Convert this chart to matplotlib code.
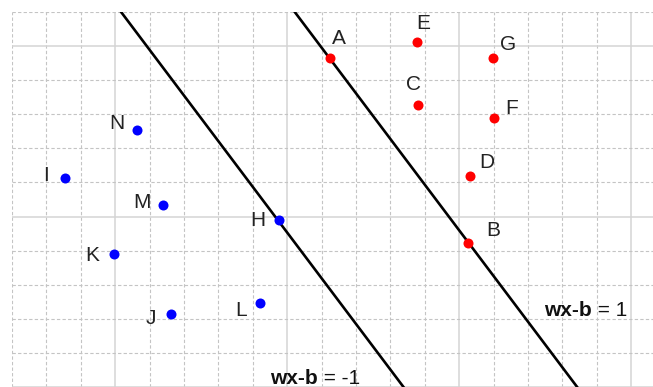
import matplotlib
matplotlib.use("Agg")
import matplotlib.pyplot as plt
import numpy as np

# ---- data ----
red_labels = ["A", "E", "C", "G", "F", "D", "B"]
red_x = [6.25, 8.77, 8.80, 10.98, 11.00, 10.30, 10.25]
red_y = [4.65, 5.13, 3.26, 4.64, 2.90, 1.20, -0.77]

blue_labels = ["N", "I", "M", "K", "H", "J", "L"]
blue_x = [0.64, -1.45, 1.39, -0.03, 4.77, 1.62, 4.20]
blue_y = [2.53, 1.12, 0.35, -1.10, -0.11, -2.85, -2.53]

# margin lines: y = slope * x + intercept
line_slope = -1.34
line_intercepts = [12.995, 6.23]          # wx-b = 1, wx-b = -1
line_names = ["wx-b = 1", "wx-b = -1"]

# ---- label offsets (pixels) ----
red_off = [(9, 20), (6, 18), (-4, 21), (15, 14), (18, 9), (17, 13), (25, 12)]
blue_off = [(-20, 7), (-19, 3), (-21, 2), (-22, -1), (-21, 0), (-20, -5), (-19, -7.5)]

plt.rcParams['font.family'] = ['Liberation Sans', 'DejaVu Sans']

fig = plt.figure(figsize=(6.53, 3.87), dpi=100)
ax = fig.add_axes([12 / 653, 0, 641 / 653, 375 / 387])
ax.set_xlim(-2.97, 15.634)
ax.set_ylim(-4.942, 5.959)

for s in ax.spines.values():
    s.set_visible(False)
ax.set_xticks(np.arange(0, 16, 5))
ax.set_yticks(np.arange(-5, 7, 5))
ax.set_xticks(np.arange(-3, 16, 1), minor=True)
ax.set_yticks(np.arange(-5, 7, 1), minor=True)
ax.tick_params(which='both', length=0, labelbottom=False, labelleft=False)
ax.grid(which='major', color='#d4d4d4', linestyle='-', linewidth=1.1)
ax.grid(which='minor', color='#c4c4c4', linestyle=(0, (3, 2)), linewidth=0.8)
ax.set_axisbelow(True)

xs = np.array([-3.5, 16.0])
for c in line_intercepts:
    ax.plot(xs, line_slope * xs + c, color='black', linewidth=1.9, zorder=2)

ax.scatter(red_x, red_y, s=52, color='#ff0000', zorder=3, linewidths=0)
ax.scatter(blue_x, blue_y, s=52, color='#0000ff', zorder=3, linewidths=0)

FS = 15
for lab, x, y, off in zip(red_labels, red_x, red_y, red_off):
    ax.annotate(lab, (x, y), xytext=off, textcoords='offset pixels',
                ha='center', va='center', fontsize=FS, color='#222222')
for lab, x, y, off in zip(blue_labels, blue_x, blue_y, blue_off):
    ax.annotate(lab, (x, y), xytext=off, textcoords='offset pixels',
                ha='center', va='center', fontsize=FS, color='#222222')

# equation labels: bold "wx-b" + regular rest
eq_pos = [(544 / 653, (387 - 316) / 387), (270 / 653, (387 - 384) / 387)]
fig.canvas.draw()
renderer = fig.canvas.get_renderer()
for name, (px, py) in zip(line_names, eq_pos):
    head, rest = name.split(" ", 1)
    t1 = fig.text(px, py, head, fontsize=FS, fontweight='bold',
                  color='#111111', ha='left', va='baseline')
    bb = t1.get_window_extent(renderer=renderer)
    x2 = bb.x1 / fig.bbox.width
    fig.text(x2, py, " " + rest, fontsize=FS, color='#111111',
             ha='left', va='baseline')

fig.savefig("out.png", dpi=100)
